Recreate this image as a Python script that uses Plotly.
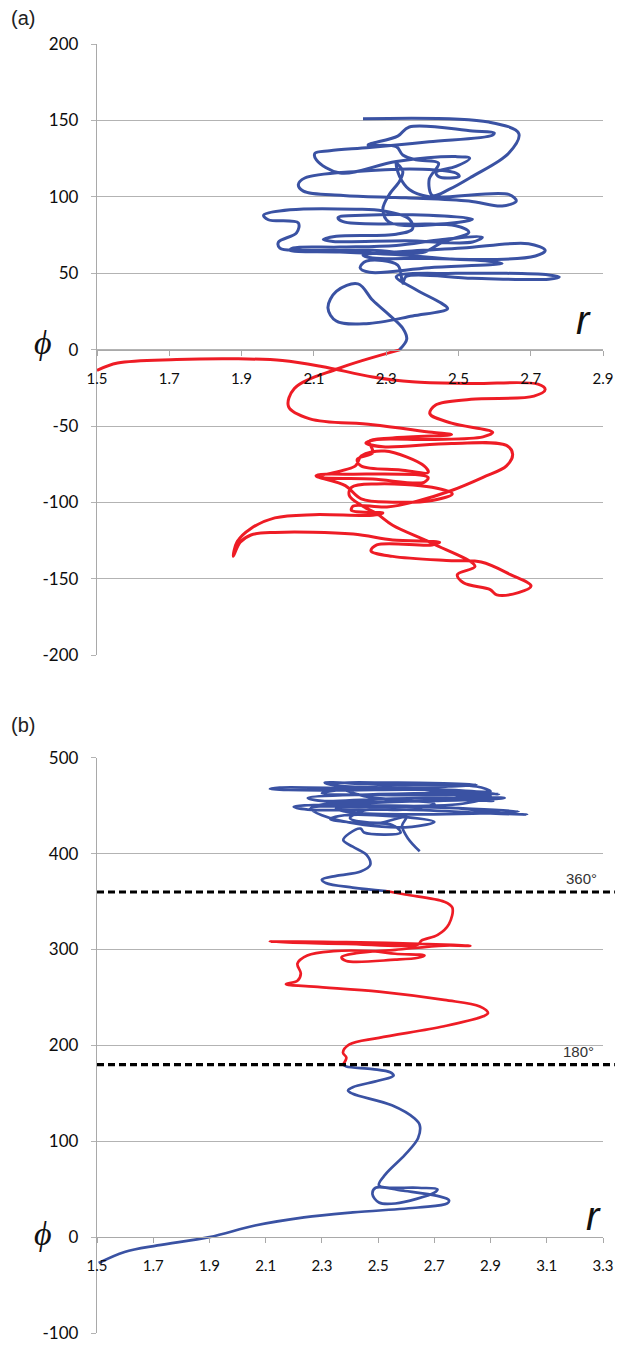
import plotly.graph_objects as go

# ---------------- data ----------------
# Panel (a): blue part of trajectory (phi > 0)
a_blue_r = [2.337, 2.357, 2.346, 2.309, 2.263, 2.222, 2.162, 2.139, 2.162, 2.245, 2.373, 2.470, 2.451, 2.383, 2.328,
            2.493, 2.750, 2.779, 2.750, 2.539, 2.355, 2.346, 2.332, 2.245, 2.228, 2.254, 2.419, 2.621, 2.584, 2.419,
            2.263, 2.236, 2.328, 2.511, 2.694, 2.740, 2.713, 2.493, 2.355, 2.172, 2.034, 2.043, 2.172, 2.328, 2.456,
            2.566, 2.539, 2.355, 2.153, 2.126, 2.162, 2.328, 2.373, 2.364, 2.291, 2.217, 2.034, 1.961, 1.974, 2.057,
            2.052, 2.002, 2.006, 2.061, 2.263, 2.401, 2.456, 2.529, 2.493, 2.355, 2.181, 2.167, 2.236, 2.419, 2.539,
            2.502, 2.309, 2.291, 2.309, 2.337, 2.346, 2.328, 2.337, 2.364, 2.419, 2.639, 2.660, 2.621, 2.529, 2.355,
            2.181, 2.071, 2.057, 2.075, 2.217, 2.401, 2.493, 2.502, 2.447, 2.438, 2.493, 2.531, 2.493, 2.328, 2.172,
            2.107, 2.103, 2.144, 2.254, 2.419, 2.594, 2.599, 2.539, 2.364, 2.332, 2.250, 2.328, 2.346, 2.383, 2.445,
            2.419, 2.428, 2.474, 2.539, 2.639, 2.667, 2.584, 2.236]
a_blue_phi = [0.0, 6.9, 14.0, 22.6, 32.3, 43.0, 38.1, 27.3, 18.7, 17.0, 22.0, 26.9, 30.6, 39.2, 47.8,
              49.9, 48.9, 47.6, 46.1, 46.7, 47.8, 43.5, 55.3, 57.9, 53.6, 50.6, 53.6, 56.4, 57.9, 59.6,
              60.0, 61.8, 63.9, 66.5, 69.3, 65.0, 61.3, 59.2, 61.8, 63.9, 65.0, 66.5, 67.1, 68.2, 72.1,
              73.6, 70.4, 71.2, 70.8, 72.1, 74.2, 75.5, 79.0, 85.4, 90.8, 91.9, 91.5, 88.0, 85.0, 82.9,
              76.4, 70.4, 66.5, 65.0, 65.0, 63.5, 70.4, 76.8, 81.1, 82.2, 83.7, 86.5, 88.0, 88.0, 85.4,
              83.3, 83.3, 91.9, 101.6, 110.2, 116.6, 122.0, 113.4, 104.8, 100.1, 101.6, 97.3, 94.0, 97.3, 99.4,
              100.9, 103.7, 108.0, 112.3, 116.6, 118.1, 115.6, 113.4, 113.0, 116.0, 119.9, 125.2, 126.3, 123.1, 115.6,
              124.2, 128.5, 130.2, 132.3, 136.0, 140.3, 141.8, 143.1, 145.7, 139.7, 133.9, 132.8, 127.4, 124.2, 122.0,
              111.3, 100.9, 104.8, 113.4, 128.5, 141.4, 148.9, 151.1]

# Panel (a): red part of trajectory (phi < 0)
a_red_r = [1.500, 1.557, 1.720, 1.883, 2.013, 2.122, 2.263, 2.372, 2.535, 2.720, 2.740, 2.709, 2.535, 2.437, 2.421,
           2.481, 2.595, 2.568, 2.427, 2.274, 2.244, 2.291, 2.481, 2.633, 2.650, 2.633, 2.568, 2.481, 2.383, 2.302,
           2.209, 2.204, 2.291, 2.263, 2.100, 1.992, 1.926, 1.888, 1.877, 1.896, 1.926, 1.992, 2.209, 2.318, 2.448,
           2.427, 2.274, 2.258, 2.318, 2.481, 2.563, 2.644, 2.701, 2.666, 2.606, 2.588, 2.514, 2.497, 2.546, 2.427,
           2.318, 2.274, 2.231, 2.198, 2.204, 2.274, 2.427, 2.483, 2.427, 2.318, 2.231, 2.187, 2.106, 2.209, 2.416,
           2.405, 2.263, 2.117, 2.215, 2.231, 2.296, 2.405, 2.416, 2.340, 2.231, 2.220, 2.263, 2.258, 2.253, 2.318,
           2.481, 2.427, 2.263, 2.089, 2.030, 2.046, 2.166, 2.340]
a_red_phi = [-13.6, -8.8, -6.5, -6.0, -7.1, -11.0, -17.9, -21.1, -22.2, -22.6, -26.1, -30.4, -32.5, -36.2, -42.0,
             -48.1, -54.1, -57.1, -58.8, -58.8, -61.0, -63.6, -61.4, -62.7, -68.5, -76.1, -83.6, -92.2, -99.3, -103.0,
             -102.4, -105.2, -106.9, -108.4, -108.0, -110.1, -117.0, -125.6, -135.3, -126.1, -121.3, -119.6, -120.7, -124.6, -126.1,
             -127.8, -127.8, -131.7, -135.3, -138.1, -139.0, -147.2, -154.7, -159.0, -160.5, -157.1, -152.6, -147.2, -141.8, -126.7,
             -114.9, -107.3, -101.9, -95.5, -90.1, -87.9, -90.1, -94.4, -98.7, -99.8, -97.6, -89.0, -82.5, -81.5, -83.6,
             -86.8, -84.7, -83.0, -76.1, -69.6, -66.4, -76.1, -80.4, -78.7, -76.1, -71.8, -67.5, -63.1, -59.9, -57.8,
             -55.6, -54.1, -49.1, -45.3, -37.3, -25.4, -12.5, 0.0]

# Panel (b): first blue part (phi < 180)
b_blue1_r = [1.506, 1.598, 1.715, 1.900, 2.062, 2.236, 2.410, 2.642, 2.746, 2.752, 2.711, 2.596, 2.491, 2.480, 2.503,
             2.561, 2.700, 2.711, 2.642, 2.503, 2.526, 2.596, 2.642, 2.648, 2.630, 2.549, 2.410, 2.393, 2.410, 2.503,
             2.555, 2.543, 2.480, 2.387, 2.375]
b_blue1_phi = [-27.0, -15.5, -8.6, 0.0, 12.1, 20.6, 25.8, 30.9, 35.1, 38.5, 43.0, 48.1, 51.5, 44.7, 36.1,
               35.1, 46.4, 49.9, 51.5, 54.0, 65.4, 86.0, 103.1, 116.9, 123.7, 137.5, 149.5, 153.0, 156.4, 163.3,
               168.5, 171.9, 175.3, 178.0, 180.0]

# Panel (b): red part (180 < phi < 360)
b_red_r = [2.375, 2.387, 2.375, 2.398, 2.503, 2.735, 2.874, 2.891, 2.862, 2.735, 2.503, 2.271, 2.172, 2.213, 2.225,
           2.213, 2.248, 2.341, 2.480, 2.561, 2.665, 2.642, 2.561, 2.387, 2.370, 2.422, 2.561, 2.735, 2.828, 2.735,
           2.387, 2.115, 2.387, 2.642, 2.654, 2.712, 2.752, 2.764, 2.735, 2.596, 2.528]
b_red_phi = [180.0, 187.3, 192.5, 201.0, 207.9, 220.0, 230.3, 233.7, 240.6, 247.4, 256.1, 261.2, 263.9, 267.4, 274.9,
             285.3, 293.8, 298.3, 298.3, 295.6, 293.8, 291.4, 289.4, 288.0, 292.1, 296.2, 299.7, 304.1, 303.8, 305.2,
             307.6, 308.2, 305.9, 305.2, 309.3, 315.2, 326.5, 343.7, 349.9, 357.4, 361.0]

# Panel (b): second blue part (phi > 360)
b_blue2_r = [2.528, 2.410, 2.314, 2.300, 2.355, 2.438, 2.472, 2.459, 2.410, 2.376, 2.397, 2.438, 2.450, 2.580, 2.550,
             2.420, 2.330, 2.380, 2.600, 2.700, 2.620, 2.450, 2.300, 2.260, 2.350, 2.750, 2.950, 3.030, 2.900, 2.600,
             2.250, 2.200, 2.400, 2.800, 2.910, 2.800, 2.500, 2.300, 2.250, 2.500, 2.850, 2.930, 2.800, 2.400, 2.150,
             2.115, 2.300, 2.700, 2.900, 2.850, 2.500, 2.310, 2.350, 2.650, 2.800, 2.950, 2.700, 2.350, 2.280, 2.600,
             3.000, 2.700, 2.400, 2.350, 2.800, 2.900, 2.600, 2.300, 2.350, 2.750, 2.850, 2.550, 2.350, 2.450, 2.700,
             2.600, 2.450, 2.400, 2.500, 2.600, 2.585, 2.607, 2.648]
b_blue2_phi = [361.0, 364.6, 369.4, 372.9, 377.0, 381.4, 388.3, 398.6, 407.2, 414.1, 421.0, 426.1, 422.0, 422.0, 430.0,
               432.0, 436.0, 440.0, 438.0, 433.0, 428.0, 430.0, 440.0, 447.0, 450.0, 448.0, 442.0, 440.6, 442.0, 446.0,
               446.0, 449.0, 452.0, 456.0, 455.0, 458.0, 457.0, 455.0, 458.0, 462.0, 463.0, 462.0, 465.0, 468.0, 469.0,
               467.5, 466.0, 467.0, 465.0, 470.0, 472.0, 474.0, 471.0, 467.0, 460.0, 458.0, 455.0, 453.0, 450.0, 449.0,
               444.0, 441.0, 443.0, 447.0, 452.0, 460.0, 461.0, 463.0, 466.0, 470.0, 472.0, 474.0, 472.0, 460.0, 452.0,
               446.0, 445.0, 437.0, 432.0, 438.0, 429.0, 415.5, 402.4]

ref_lines_phi = [180, 360]
ref_labels = ["180°", "360°"]

a_yticks = [-200, -150, -100, -50, 0, 50, 100, 150, 200]
a_yticktext = ["-200", "-150", "-100", "-50", "0", "50", "100", "150", "200"]
b_yticks = [-100, 0, 100, 200, 300, 400, 500]
b_yticktext = ["-100", "0", "100", "200", "300", "400", "500"]

# ---------------- styling ----------------
BLUE = "#3a52a3"
RED = "#ee1c25"
GRID = "#b3b3b3"
AXIS = "#a9a9a9"
W, H = 622, 1352
ML, MR, MT, MB = 97, 12, 44, 9
PW = W - ML - MR
PH = H - MT - MB


def py(ypix):
    return (H - MB - ypix) / PH


def px(xpix):
    return (xpix - ML) / PW


fig = go.Figure()
line_a = dict(width=3.0, shape="spline", smoothing=1.0)
line_b = dict(width=2.7, shape="spline", smoothing=1.0)
fig.add_trace(go.Scatter(x=a_red_r, y=a_red_phi, mode="lines", line=dict(color=RED, **line_a),
                         xaxis="x", yaxis="y", showlegend=False))
fig.add_trace(go.Scatter(x=a_blue_r, y=a_blue_phi, mode="lines", line=dict(color=BLUE, **line_a),
                         xaxis="x", yaxis="y", showlegend=False))
fig.add_trace(go.Scatter(x=b_blue1_r, y=b_blue1_phi, mode="lines", line=dict(color=BLUE, **line_b),
                         xaxis="x2", yaxis="y2", showlegend=False))
fig.add_trace(go.Scatter(x=b_red_r, y=b_red_phi, mode="lines", line=dict(color=RED, **line_b),
                         xaxis="x2", yaxis="y2", showlegend=False))
fig.add_trace(go.Scatter(x=b_blue2_r, y=b_blue2_phi, mode="lines", line=dict(color=BLUE, **line_b),
                         xaxis="x2", yaxis="y2", showlegend=False))

ya_dom = [py(660), 1.0]
yb_dom = [0.0, py(763.3)]
xa_pos = ya_dom[0] + (ya_dom[1] - ya_dom[0]) * 0.5
xb_pos = yb_dom[0] + (yb_dom[1] - yb_dom[0]) * (100 / 600)

TICKFONT = "Lato, Open Sans, sans-serif"
xcommon = dict(showgrid=False, zeroline=False, showline=True, linecolor=AXIS, linewidth=1.3,
               ticks="outside", ticklen=5, tickwidth=1.3, tickcolor=AXIS, tickformat=".1f",
               tickfont=dict(family=TICKFONT, size=15, color="#0d0d0d"),
               ticklabelstandoff=10, ticklabeloverflow="allow", anchor="free", domain=[0, 1])
ycommon = dict(showgrid=True, gridcolor=GRID, gridwidth=1.3, zeroline=False, showline=True,
               linecolor=AXIS, linewidth=1.3, ticks="outside", ticklen=5, tickwidth=1.3, tickcolor=GRID,
               tickfont=dict(family=TICKFONT, size=17, color="#0d0d0d"),
               ticklabelstandoff=9, ticklabeloverflow="allow")

fig.update_layout(
    width=W, height=H, margin=dict(l=ML, r=MR, t=MT, b=MB),
    paper_bgcolor="white", plot_bgcolor="white", showlegend=False,
    xaxis=dict(range=[1.5, 2.9], tick0=1.5, dtick=0.2, position=xa_pos, **xcommon),
    yaxis=dict(range=[-200, 200], tickmode="array", tickvals=a_yticks, ticktext=a_yticktext,
               domain=ya_dom, anchor="x", **ycommon),
    xaxis2=dict(range=[1.5, 3.3], tick0=1.5, dtick=0.2, position=xb_pos, **xcommon),
    yaxis2=dict(range=[-100, 500], tickmode="array", tickvals=b_yticks, ticktext=b_yticktext,
                domain=yb_dom, anchor="x2", **ycommon),
)

for phi in ref_lines_phi:
    fig.add_shape(type="line", xref="paper", yref="y2", x0=0, x1=(W - ML) / PW, y0=phi, y1=phi,
                  line=dict(color="black", width=3.2, dash="7px,4px"))

ann_font = dict(family="Liberation Sans, Arial, sans-serif", size=20, color="#222")
fig.add_annotation(text="(a)", xref="paper", yref="paper", x=px(8), y=py(18), xanchor="left",
                   yanchor="middle", showarrow=False, font=ann_font)
fig.add_annotation(text="(b)", xref="paper", yref="paper", x=px(8), y=py(730), xanchor="left",
                   yanchor="middle", showarrow=False, font=ann_font)
phi_font = dict(family="Liberation Serif, DejaVu Serif, serif", size=34, color="#111")
r_font = dict(family="Liberation Sans, Arial, sans-serif", size=40, color="#111")
for ypix in (345, 1243):
    fig.add_annotation(text="<i>ϕ</i>", xref="paper", yref="paper", x=px(42), y=py(ypix),
                       xanchor="center", yanchor="middle", showarrow=False, font=phi_font)
for xpix, ypix in ((590, 322), (600, 1225)):
    fig.add_annotation(text="<i>r</i>", xref="paper", yref="paper", x=px(xpix), y=py(ypix),
                       xanchor="center", yanchor="middle", showarrow=False, font=r_font)
for phi, lab, xpix in zip(ref_lines_phi, ref_labels, (585, 588)):
    fig.add_annotation(text=lab, xref="paper", yref="y2", x=px(xpix), y=phi, yshift=13,
                       xanchor="center", yanchor="middle", showarrow=False,
                       font=dict(family="Liberation Sans, Arial, sans-serif", size=15, color="#333"))

fig.write_html(
    "out.html",
    config={"displayModeBar": False},
    post_script="document.body.style.margin='0';document.body.style.overflow='hidden';",
)
